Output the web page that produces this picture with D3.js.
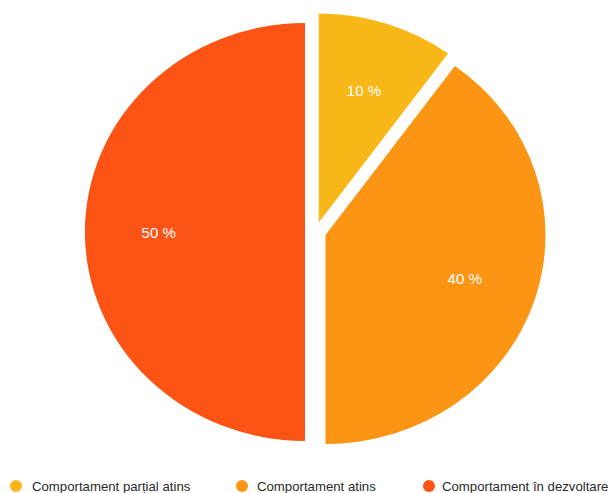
<!DOCTYPE html>
<html>
<head>
<meta charset="utf-8">
<script src="https://cdn.jsdelivr.net/npm/d3@7"></script>
<style>
  html, body { margin: 0; padding: 0; background: #ffffff; }
  svg { display: block; }
</style>
</head>
<body>
<svg id="chart" width="611" height="493"></svg>
<script>
// Data
const categories = ["Comportament parțial atins", "Comportament atins", "Comportament în dezvoltare"];
const values = [10, 40, 50];
const labels = ["10 %", "40 %", "50 %"];
const colors = ["#F9B818", "#FB9513", "#FD5416"];

const W = 611, H = 493;
const cx = 315.5, cy = 232;
const R = 209;           // vertical radius
const sx = 220 / 209;    // horizontal stretch of the ellipse
const explode = 10;
const labelR = 139;

const svg = d3.select("#chart");

const pie = d3.pie().sort(null).value(d => d.v).startAngle(0).endAngle(2 * Math.PI);
const data = pie(values.map((v, i) => ({ v, i })));

const arc = d3.arc().innerRadius(0).outerRadius(R);

const pieG = svg.append("g")
  .attr("transform", `translate(${cx},${cy}) scale(${sx},1)`);

pieG.selectAll("path")
  .data(data)
  .join("path")
  .attr("d", arc)
  .attr("fill", d => colors[d.data.i])
  .attr("transform", d => {
    const a = (d.startAngle + d.endAngle) / 2;
    return `translate(${explode * Math.sin(a)},${-explode * Math.cos(a)})`;
  });

// Labels (placed in unscaled space so text is not stretched)
svg.append("g").selectAll("text")
  .data(data)
  .join("text")
  .attr("x", d => {
    const a = (d.startAngle + d.endAngle) / 2;
    return cx + sx * (explode + labelR) * Math.sin(a);
  })
  .attr("y", d => {
    const a = (d.startAngle + d.endAngle) / 2;
    return cy - (explode + labelR) * Math.cos(a);
  })
  .attr("text-anchor", "middle")
  .attr("dominant-baseline", "central")
  .attr("fill", "#ffffff")
  .attr("font-family", "'Liberation Sans', Arial, Helvetica, sans-serif")
  .attr("font-size", 15)
  .text(d => labels[d.data.i]);

// Legend
const legendX = [16, 242, 429];
const legendTextX = [32, 257, 442];
const legendY = 486;
const lg = svg.append("g");
categories.forEach((c, i) => {
  lg.append("circle")
    .attr("cx", legendX[i])
    .attr("cy", legendY)
    .attr("r", 6)
    .attr("fill", colors[i]);
  lg.append("text")
    .attr("x", legendTextX[i])
    .attr("y", legendY)
    .attr("dominant-baseline", "central")
    .attr("fill", "#2a2a2a")
    .attr("font-family", "'Liberation Sans', Arial, Helvetica, sans-serif")
    .attr("font-size", 13.2)
    .text(c);
});
</script>
</body>
</html>
